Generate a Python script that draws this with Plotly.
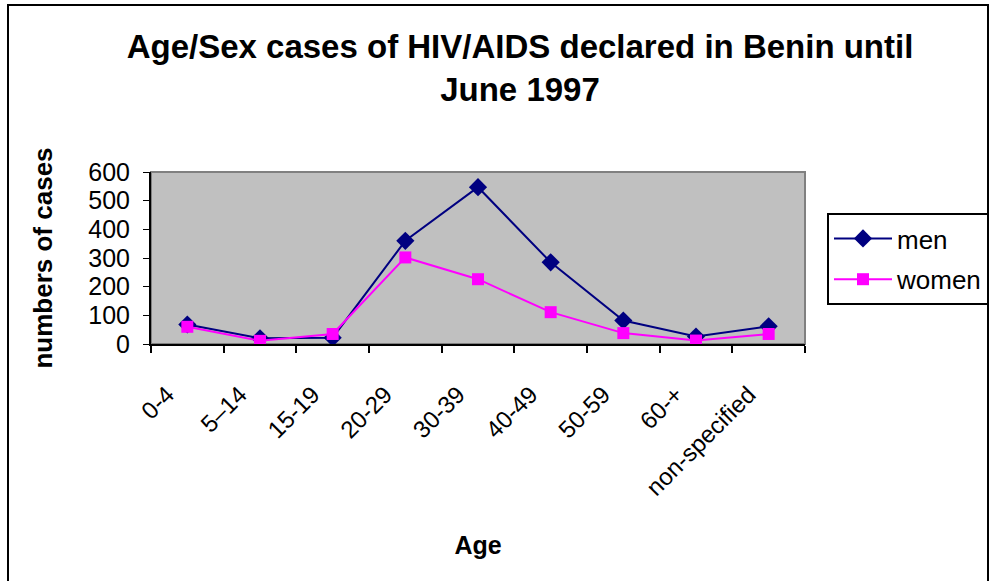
import plotly.graph_objects as go

categories = ["0-4", "5–14", "15-19", "20-29", "30-39", "40-49", "50-59", "60-+", "non-specified"]
men = [68, 20, 22, 360, 547, 285, 82, 26, 62]
women = [60, 11, 35, 302, 226, 111, 38, 12, 35]
y_ticks = [0, 100, 200, 300, 400, 500, 600]

FONT = "Liberation Sans, Arial, sans-serif"

L, R, T, B = 151, 805, 172, 344
W, H = 990, 581
pw, ph = R - L, B - T

def px_x(p):
    return (p - L) / pw

def px_y(p):
    return (B - p) / ph

fig = go.Figure()
fig.add_trace(go.Scatter(
    x=categories, y=men, name="men", mode="lines+markers",
    line=dict(color="#000080", width=2),
    marker=dict(symbol="diamond", size=14, color="#000080"),
    legendgroup="a",
))
fig.add_trace(go.Scatter(
    x=categories, y=women, name="women", mode="lines+markers",
    line=dict(color="#FF00FF", width=2),
    marker=dict(symbol="square", size=12, color="#FF00FF",
                line=dict(color="#FF00FF", width=0)),
    legendgroup="b",
))

fig.update_layout(
    width=W, height=H,
    margin=dict(l=L, r=W - R, t=T, b=H - B, autoexpand=False),
    paper_bgcolor="white",
    plot_bgcolor="#C0C0C0",
    font=dict(family=FONT, color="black"),
    title=dict(
        text="<b>Age/Sex cases of HIV/AIDS declared in Benin until<br>June 1997</b>",
        font=dict(size=33, family=FONT),
        x=520 / W, xanchor="center",
        y=1 - 58 / H, yanchor="middle",
    ),
    showlegend=True,
    legend=dict(
        x=px_x(827), xanchor="left",
        y=px_y(213), yanchor="top",
        bordercolor="black", borderwidth=2,
        bgcolor="white",
        font=dict(size=26, family=FONT),
        tracegroupgap=4,
        itemwidth=58,
    ),
    xaxis=dict(
        type="category",
        tickson="boundaries",
        ticks="outside", ticklen=7, tickwidth=2, tickcolor="black",
        showline=True, linecolor="black", linewidth=2,
        showgrid=False, zeroline=False,
        tickangle=-45,
        tickfont=dict(size=24, family=FONT),
        ticklabelstandoff=25,
        ticklabelshift=-20,
        title=dict(text="<b>Age</b>", font=dict(size=25, family=FONT), standoff=37),
        range=[-0.5, len(categories) - 0.5],
        fixedrange=True,
    ),
    yaxis=dict(
        range=[0, 600],
        tickvals=y_ticks,
        ticks="outside", ticklen=6, tickwidth=1, tickcolor="black",
        showline=True, linecolor="black", linewidth=2,
        showgrid=False, zeroline=False,
        tickfont=dict(size=25, family=FONT),
        ticklabelstandoff=8,
        title=dict(text="<b>numbers of cases</b>", font=dict(size=26, family=FONT), standoff=28),
        fixedrange=True,
    ),
    shapes=[
        dict(type="rect", xref="paper", yref="paper", x0=0, x1=1, y0=0, y1=1,
             line=dict(color="#808080", width=2), layer="below"),
        dict(type="rect", xref="paper", yref="paper",
             x0=px_x(8), x1=px_x(988), y0=px_y(5), y1=px_y(600),
             line=dict(color="black", width=2)),
    ],
)

fig.write_html("out.html")
